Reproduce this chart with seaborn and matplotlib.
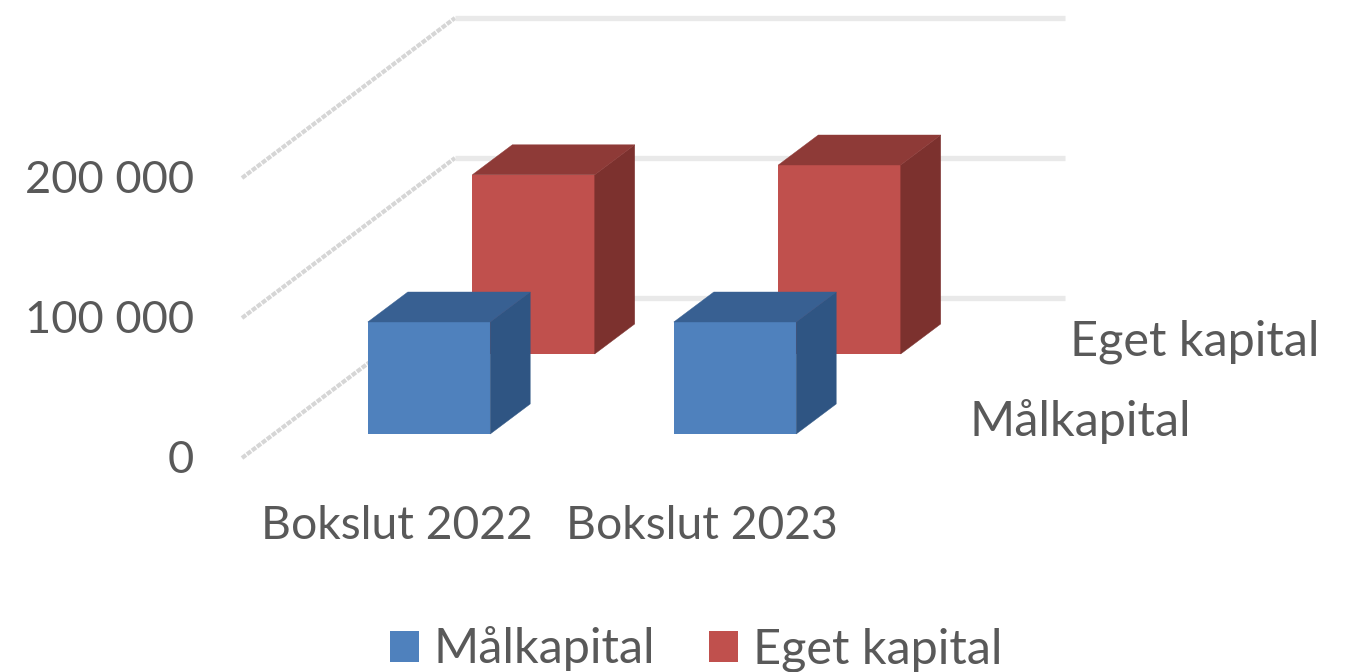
import matplotlib
matplotlib.use("Agg")
import matplotlib.pyplot as plt
from matplotlib.lines import Line2D
from matplotlib.patches import Patch, Polygon
from matplotlib.transforms import ScaledTranslation
import seaborn as sns

categories = ["Bokslut 2022", "Bokslut 2023"]
malkapital = [80000, 80000]
eget_kapital = [128000, 135000]
y_ticks = [0, 100000, 200000]
y_tick_labels = ["0", "100 000", "200 000"]
series_names = ["Målkapital", "Eget kapital"]

W, H = 1356, 672
FS_VAL = 32.6
FS_CAT = 33.3
FS_NAME = 35
TXT = "#595959"
sns.set_theme(style="white")
plt.rcParams["font.family"] = ["Lato", "DejaVu Sans"]
fig = plt.figure(figsize=(W / 100, H / 100), dpi=100, facecolor="white")


def make_ax(left, right, y0, y200k):
    ax = fig.add_axes([left / W, 1 - y0 / H, (right - left) / W, (y0 - y200k) / H])
    ax.patch.set_alpha(0)
    ax.set_ylim(0, 200000)
    sns.despine(ax=ax, left=True, bottom=True)
    ax.set_xlabel("")
    ax.set_ylabel("")
    return ax


def fx(p):
    return p / W


def fy(p):
    return 1 - p / H


# back wall gridlines
wall = make_ax(455, 1065, 298, 18)
wall.set_xticks([])
wall.set_yticks(y_ticks)
wall.set_yticklabels([])
wall.tick_params(length=0)
wall.grid(axis="y", color="#e9e9e9", lw=3.8, clip_on=False)
for ln in wall.get_ygridlines():
    ln.set_clip_on(False)
    ln.set_solid_capstyle("butt")
wall.set_zorder(1)

# floor axes: value labels and category labels
floor = make_ax(244, 854, 458, 178)
floor.set_xlim(-0.5, 1.5)
floor.set_xticks(range(len(categories)))
floor.set_xticklabels(categories, fontsize=FS_CAT, color=TXT)
floor.set_yticks(y_ticks)
floor.set_yticklabels(y_tick_labels, fontsize=FS_VAL, color=TXT)
floor.tick_params(length=0, axis="y", pad=36)
floor.tick_params(length=0, axis="x", pad=34)
floor.set_zorder(2)
lift = ScaledTranslation(0, 1.6 / 100, fig.dpi_scale_trans)
for lab in floor.get_yticklabels():
    lab.set_transform(lab.get_transform() + lift)

# side wall gridlines joining the front edge to the back wall
for v in y_ticks:
    a = floor.transData.transform((-0.5, v))
    b = wall.transData.transform((0, v))
    a = fig.transFigure.inverted().transform((a[0] - 2, a[1]))
    b = fig.transFigure.inverted().transform(b)
    fig.add_artist(Line2D([a[0], wall.get_position().x0], [a[1], b[1]],
                          color="#d6d6d6", lw=3.0, ls=(0, (1.2, 0.3)), zorder=0.5))


def bars3d(left, right, y0, values, front, side, top, z):
    ax = make_ax(left, right, y0, y0 - 280)
    sns.barplot(x=categories, y=values, ax=ax, color=front, width=0.4, saturation=1, linewidth=0)
    ax.set_xlim(-0.5, 1.5)
    ax.set_ylim(0, 200000)
    ax.set_xticks([])
    ax.set_yticks([])
    ax.set_xlabel("")
    ax.set_ylabel("")
    ax.set_zorder(z)
    dx = 40 / (right - left) * 2
    dy = 30 / 280 * 200000
    for b in list(ax.patches):
        x0, x1 = b.get_x(), b.get_x() + b.get_width()
        h = b.get_height()
        ax.add_patch(Polygon([(x1, 0), (x1 + dx, dy), (x1 + dx, h + dy), (x1, h)],
                             fc=side, ec=side, lw=0.3, clip_on=False))
        ax.add_patch(Polygon([(x0, h), (x0 + dx, h + dy), (x1 + dx, h + dy), (x1, h)],
                             fc=top, ec=top, lw=0.3, clip_on=False))
    return ax


bars3d(380.5, 992.5, 354, eget_kapital, "#C0504D", "#7C312E", "#8E3A37", 3)
bars3d(276, 888, 434, malkapital, "#4F81BD", "#2F5583", "#386092", 4)

# depth axis labels
fig.text(fx(1320), fy(342), series_names[1], fontsize=FS_NAME, color=TXT, ha="right", va="center", zorder=6)
fig.text(fx(1191), fy(421), series_names[0], fontsize=FS_NAME, color=TXT, ha="right", va="center", zorder=6)

# legend
handles = [Patch(fc="#4F81BD", ec="none"), Patch(fc="#C0504D", ec="none")]
fig.legend(handles, series_names, loc="center", bbox_to_anchor=(696 / W, fy(649)), ncol=2,
           frameon=False, fontsize=FS_NAME, labelcolor=TXT, handlelength=0.6, handleheight=0.6,
           handletextpad=0.3, columnspacing=1.1, borderpad=0)

fig.savefig("out.png", dpi=100, facecolor="white")
